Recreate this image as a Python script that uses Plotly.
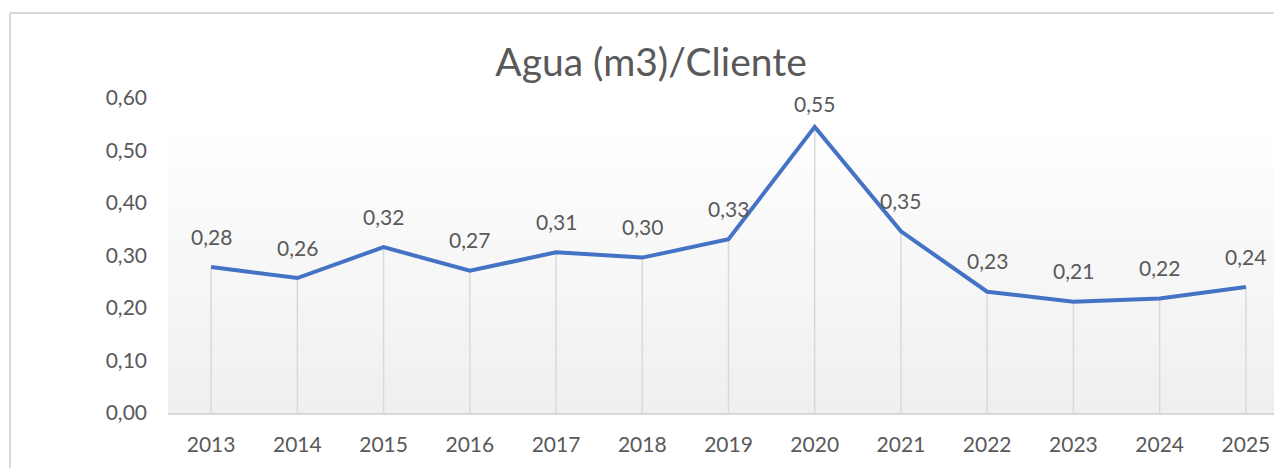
import plotly.graph_objects as go

years = ["2013", "2014", "2015", "2016", "2017", "2018", "2019",
         "2020", "2021", "2022", "2023", "2024", "2025"]
values = [0.278, 0.257, 0.316, 0.271, 0.306, 0.296, 0.331,
          0.545, 0.346, 0.231, 0.212, 0.218, 0.240]
y_ticks = [0.0, 0.1, 0.2, 0.3, 0.4, 0.5, 0.6]
title_text = "Agua (m3)/Cliente"

labels = [f"{v:.2f}".replace(".", ",") for v in values]
tick_text = [f"{t:.2f}".replace(".", ",") for t in y_ticks]

# page body has an 8px margin; figure coordinates compensate for it
W, H = 1282, 468
L, R, T, B = 160, 1, 90, 63
PW, PH = W - L - R, H - T - B
YMAX = 0.6
FONT = "Lato, 'Open Sans', sans-serif"
GREY_TXT = "#595959"
FS = 21

fig = go.Figure()

# drop lines
xs, ys = [], []
for c, v in zip(years, values):
    xs += [c, c, None]
    ys += [0, v, None]
fig.add_trace(go.Scatter(x=xs, y=ys, mode="lines",
                         line=dict(color="#d9d9d9", width=1.5),
                         hoverinfo="skip", showlegend=False))

fig.add_trace(go.Scatter(
    x=years, y=values, mode="lines",
    line=dict(color="#4472C4", width=4),
    cliponaxis=False, showlegend=False))

annotations = []
for i, (v, t) in enumerate(zip(values, labels)):
    room = (YMAX - v) * PH / YMAX - 5  # keep label inside plot area
    annotations.append(dict(x=i, y=v, xref="x", yref="y", text=t,
                            showarrow=False, yshift=min(31, room),
                            xanchor="center", yanchor="middle",
                            font=dict(size=FS, color=GREY_TXT, family=FONT)))

# background gradient bands
shapes = []
nb = 24
top = 0.535
for i in range(nb):
    y0 = top * i / nb
    y1 = top * (i + 1) / nb
    f = i / (nb - 1)
    g = int(round(0xef + (0xfe - 0xef) * f))
    shapes.append(dict(type="rect", xref="paper", yref="y", x0=0, x1=1,
                       y0=y0, y1=y1, fillcolor=f"rgb({g},{g},{g})",
                       line=dict(width=0), layer="below"))
# outer chart border (left/top)
bx = (2 - L) / PW
by = 1 + (T - 5) / PH
shapes.append(dict(type="line", xref="paper", yref="paper",
                   x0=bx, x1=1.2, y0=by, y1=by,
                   line=dict(color="#d9d9d9", width=2)))
shapes.append(dict(type="line", xref="paper", yref="paper",
                   x0=bx, x1=bx, y0=-0.5, y1=by,
                   line=dict(color="#d9d9d9", width=2)))

fig.update_layout(
    template="none",
    width=W, height=H,
    margin=dict(l=L, r=R, t=T, b=B, autoexpand=False),
    paper_bgcolor="white", plot_bgcolor="white",
    shapes=shapes, annotations=annotations,
    title=dict(text=title_text, x=643 / W, xanchor="center",
               y=1 - 54 / H, yanchor="middle",
               font=dict(size=39, color=GREY_TXT, family=FONT)),
    xaxis=dict(type="category", range=[-0.5, 12.5], automargin=False,
               showgrid=False, zeroline=False,
               showline=True, linecolor="#d9d9d9", linewidth=1.5,
               ticks="", tickfont=dict(size=FS, color=GREY_TXT, family=FONT),
               ticklabelstandoff=12),
    yaxis=dict(range=[0, YMAX], tickvals=y_ticks, ticktext=tick_text,
               automargin=False,
               showgrid=False, zeroline=False, showline=False,
               ticks="", tickfont=dict(size=FS, color=GREY_TXT, family=FONT),
               ticklabelstandoff=20),
)

fig.write_html("out.html")
